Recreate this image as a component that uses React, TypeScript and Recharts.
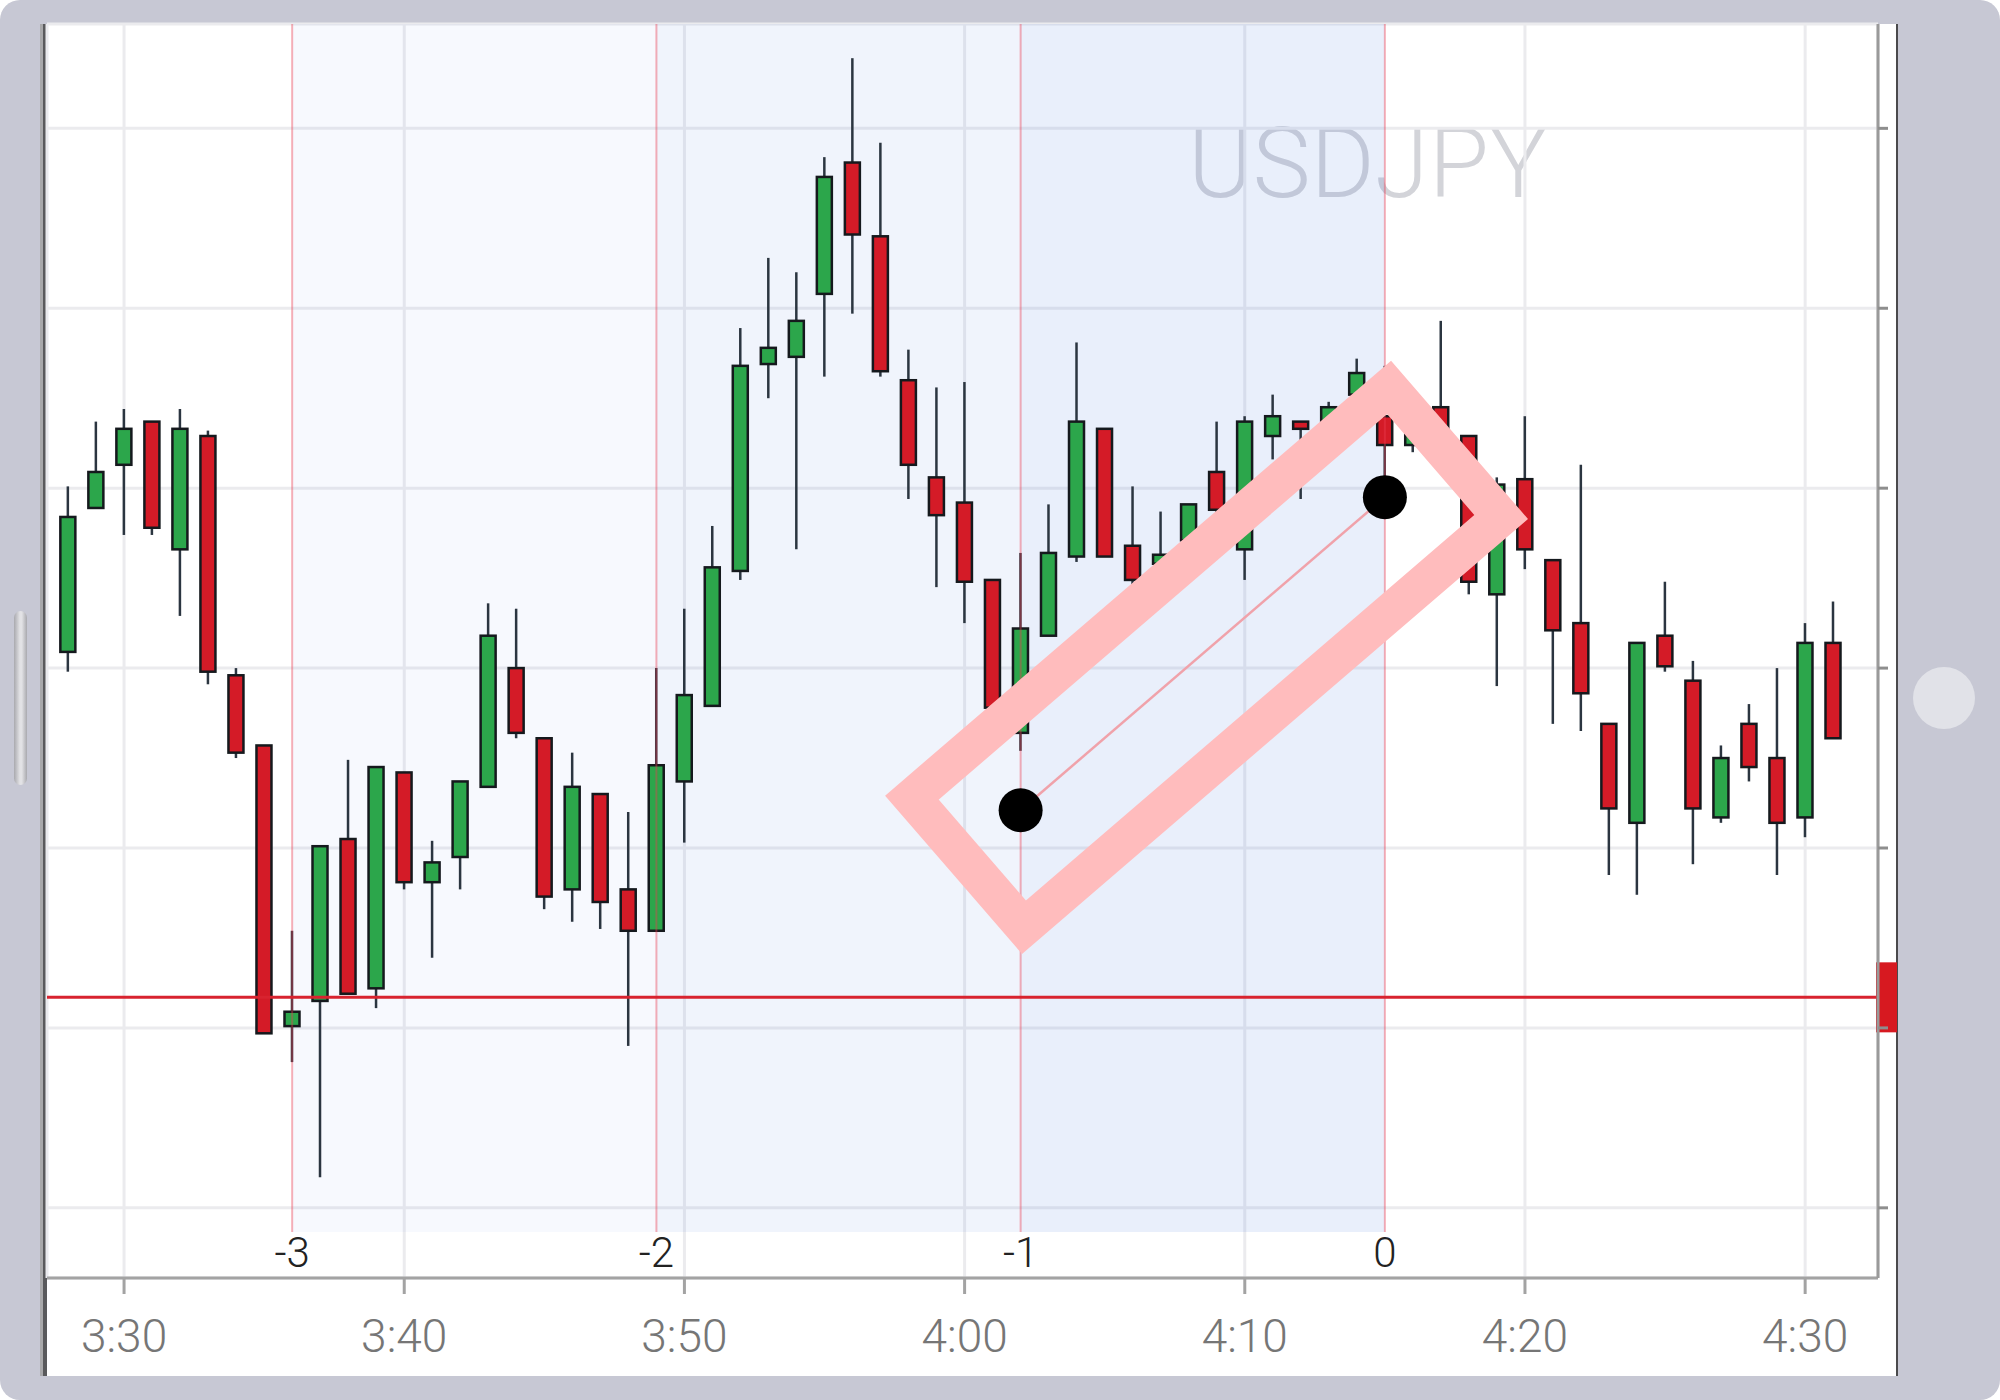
import React from 'react';
import {
  ComposedChart,
  Bar,
  Line,
  XAxis,
  YAxis,
  CartesianGrid,
  ReferenceLine,
  ReferenceArea,
  ReferenceDot,
} from 'recharts';

// one candle per minute
const times = [
  '3:28', '3:29', '3:30', '3:31', '3:32', '3:33', '3:34', '3:35', '3:36', '3:37', '3:38', '3:39',
  '3:40', '3:41', '3:42', '3:43', '3:44', '3:45', '3:46', '3:47', '3:48', '3:49', '3:50', '3:51',
  '3:52', '3:53', '3:54', '3:55', '3:56', '3:57', '3:58', '3:59', '4:00', '4:01', '4:02', '4:03',
  '4:04', '4:05', '4:06', '4:07', '4:08', '4:09', '4:10', '4:11', '4:12', '4:13', '4:14', '4:15',
  '4:16', '4:17', '4:18', '4:19', '4:20', '4:21', '4:22', '4:23', '4:24', '4:25', '4:26', '4:27',
  '4:28', '4:29', '4:30', '4:31',
];

const opens = [
  110.009, 110.089, 110.113, 110.137, 110.066, 110.129, 109.996, 109.957, 109.801, 109.815, 109.905, 109.822,
  109.942, 109.881, 109.895, 109.934, 110.0, 109.961, 109.877, 109.93, 109.877, 109.854, 109.937, 109.979,
  110.054, 110.169, 110.173, 110.208, 110.281, 110.24, 110.16, 110.106, 110.092, 110.049, 109.964, 110.018,
  110.062, 110.133, 110.068, 110.058, 110.071, 110.109, 110.066, 110.129, 110.137, 110.127, 110.152, 110.14,
  110.124, 110.145, 110.129, 110.041, 110.105, 110.06, 110.025, 109.969, 109.914, 110.018, 109.993, 109.917,
  109.969, 109.95, 109.917, 110.014,
];
const highs = [
  110.101, 110.137, 110.144, 110.137, 110.144, 110.132, 110.0, 109.957, 109.854, 109.901, 109.949, 109.945,
  109.942, 109.904, 109.937, 110.036, 110.033, 109.961, 109.953, 109.93, 109.92, 110.0, 110.033, 110.079,
  110.189, 110.228, 110.22, 110.284, 110.339, 110.292, 110.177, 110.156, 110.159, 110.049, 110.064, 110.091,
  110.181, 110.133, 110.101, 110.087, 110.091, 110.137, 110.14, 110.152, 110.137, 110.148, 110.172, 110.168,
  110.146, 110.193, 110.129, 110.106, 110.14, 110.06, 110.113, 109.969, 110.014, 110.048, 110.004, 109.957,
  109.98, 110.0, 110.025, 110.037,
];
const lows = [
  109.998, 110.089, 110.074, 110.074, 110.029, 109.991, 109.95, 109.797, 109.781, 109.717, 109.819, 109.811,
  109.877, 109.839, 109.877, 109.934, 109.961, 109.866, 109.859, 109.855, 109.79, 109.854, 109.903, 109.979,
  110.049, 110.15, 110.066, 110.162, 110.197, 110.162, 110.094, 110.045, 110.025, 109.976, 109.954, 110.018,
  110.059, 110.062, 110.046, 110.055, 110.069, 110.085, 110.049, 110.116, 110.094, 110.122, 110.149, 110.099,
  110.12, 110.116, 110.041, 109.99, 110.055, 109.969, 109.965, 109.885, 109.874, 109.998, 109.891, 109.914,
  109.937, 109.885, 109.906, 109.961,
];
const closes = [
  110.084, 110.109, 110.133, 110.078, 110.133, 109.998, 109.953, 109.797, 109.809, 109.901, 109.819, 109.945,
  109.881, 109.892, 109.937, 110.018, 109.964, 109.873, 109.934, 109.87, 109.854, 109.946, 109.985, 110.056,
  110.168, 110.178, 110.193, 110.273, 110.241, 110.165, 110.113, 110.085, 110.048, 109.978, 110.022, 110.064,
  110.137, 110.062, 110.049, 110.063, 110.091, 110.088, 110.137, 110.14, 110.133, 110.145, 110.164, 110.124,
  110.144, 110.122, 110.048, 110.102, 110.066, 110.021, 109.986, 109.922, 110.014, 110.001, 109.922, 109.95,
  109.945, 109.914, 110.014, 109.961,
];

const tickLabels = ['3:30', '3:40', '3:50', '4:00', '4:10', '4:20', '4:30'];
const priceTicks = [109.7, 109.8, 109.9, 110.0, 110.1, 110.2, 110.3];

// time cycle tool
const cycleTimes = ['3:36', '3:49', '4:02', '4:15'];
const cycleLabels = ['-3', '-2', '-1', '0'];
const cycleFills = ['rgba(60,111,221,0.04)', 'rgba(60,111,221,0.075)', 'rgba(60,111,221,0.115)'];

// drawn channel (corner points, minutes / price)
const channelMinutes = [238.12, 242.12, 259.15, 255.15];
const channelPrices = [109.928, 109.856, 110.084, 110.156];
const anchorTimes = ['4:02', '4:15'];
const anchorPrices = [109.921, 110.095];

const priceLine = 109.817;

const X_DOMAIN: [number, number] = [207.25, 272.6];
const Y_DOMAIN: [number, number] = [109.661, 110.358];
const CYCLE_FLOOR = 109.6866;
const BODY_W = 15;

const toMin = (s: string) => {
  const [h, m] = s.split(':').map(Number);
  return h * 60 + m;
};
const fmtMin = (v: number) => `${Math.floor(v / 60)}:${String(Math.round(v) % 60).padStart(2, '0')}`;

const candles = times.map((time, i) => ({
  t: toMin(time),
  open: opens[i],
  high: highs[i],
  low: lows[i],
  close: closes[i],
  range: [lows[i], highs[i]],
}));

const order = [0, 1, 2, 3, 0, 1];
const channel = order.map((k) => ({ t: channelMinutes[k], p: channelPrices[k] }));

const font = 'Roboto, "Open Sans", sans-serif';

const Candle = (props: any) => {
  const { x, y, width, height, payload } = props;
  if (!payload) return null;
  const top = Math.min(y, y + height);
  const bottom = Math.max(y, y + height);
  const { open, close, high, low } = payload;
  const px = (v: number) => top + ((high - v) / (high - low)) * (bottom - top);
  const up = close >= open;
  const bTop = px(Math.max(open, close));
  const bBot = px(Math.min(open, close));
  const cx = x + width / 2;
  return (
    <g>
      <line x1={cx} x2={cx} y1={top} y2={bottom} stroke="#2b3540" strokeWidth={2.5} />
      <rect
        x={cx - BODY_W / 2}
        y={bTop}
        width={BODY_W}
        height={Math.max(bBot - bTop, 2)}
        fill={up ? '#2ca64b' : '#d41b27'}
        stroke="#15191d"
        strokeWidth={2.5}
      />
    </g>
  );
};

const PriceTag = (props: any) => {
  const vb = props.viewBox || {};
  return <rect x={vb.x + vb.width - 2} y={vb.y - 35} width={21} height={70} fill="#d71920" />;
};

export default function App() {
  return (
    <div style={{ position: 'absolute', left: 0, top: 0, width: 2000, height: 1400, overflow: 'hidden' }}>
      {/* device frame */}
      <div style={{ position: 'absolute', inset: 0, background: '#c7c8d4', borderRadius: 20 }} />
      <div style={{ position: 'absolute', left: 47, top: 24, width: 1850, height: 1352, background: '#fff' }} />
      <div style={{ position: 'absolute', left: 40, top: 24, width: 3, height: 1352, background: '#a9a9ab' }} />
      <div style={{ position: 'absolute', left: 43, top: 24, width: 4, height: 1352, background: '#5a5a5c' }} />
      <div style={{ position: 'absolute', left: 1896, top: 24, width: 2, height: 1352, background: '#4a4a4c' }} />
      <div
        style={{
          position: 'absolute', left: 14, top: 611, width: 13, height: 174, borderRadius: 7,
          background: 'linear-gradient(to right, #a9a9ae, #e2e2e5 45%, #e2e2e5 60%, #a9a9ae)',
        }}
      />
      <div
        style={{
          position: 'absolute', left: 1913, top: 667, width: 62, height: 62, borderRadius: '50%', background: '#e1e2e8',
        }}
      />

      <svg width={2000} height={1400} style={{ position: 'absolute', left: 0, top: 0 }}>
        <text x={1188} y={197} fontSize={98} fontFamily={font} fontWeight={300} fill="#d3d4d9">
          USDJPY
        </text>
      </svg>

      <div style={{ position: 'absolute', left: 0, top: 0 }}>
        <ComposedChart
          width={2000}
          height={1400}
          data={candles}
          margin={{ top: 24, left: 47, right: 102, bottom: 42 }}
        >
          <CartesianGrid stroke="#ebebee" strokeWidth={3} />
          <XAxis
            type="number"
            dataKey="t"
            domain={X_DOMAIN}
            allowDataOverflow
            ticks={tickLabels.map(toMin)}
            tickFormatter={fmtMin}
            height={80}
            axisLine={{ stroke: '#a3a3a3', strokeWidth: 3 }}
            tickLine={{ stroke: '#a3a3a3', strokeWidth: 3 }}
            tickSize={16}
            tickMargin={25}
            tick={{ fill: '#767676', fontSize: 46, fontFamily: font, fontWeight: 300 }}
          />
          <YAxis
            type="number"
            orientation="right"
            domain={Y_DOMAIN}
            allowDataOverflow
            ticks={priceTicks}
            width={20}
            axisLine={{ stroke: '#9a9a9a', strokeWidth: 3 }}
            tickLine={{ stroke: '#8e8e8e', strokeWidth: 3 }}
            tickSize={10}
            tick={() => <g />}
          />
          {cycleFills.map((fill, i) => (
            <ReferenceArea
              key={`band-${i}`}
              x1={toMin(cycleTimes[i])}
              x2={toMin(cycleTimes[i + 1])}
              y1={CYCLE_FLOOR}
              y2={Y_DOMAIN[1]}
              fill={fill}
              fillOpacity={1}
              stroke="none"
            />
          ))}
          <Bar dataKey="range" barSize={15} shape={<Candle />} isAnimationActive={false} />
          {cycleTimes.map((time, i) => (
            <ReferenceLine
              key={`cycle-${i}`}
              segment={[
                { x: toMin(time), y: CYCLE_FLOOR },
                { x: toMin(time), y: Y_DOMAIN[1] },
              ]}
              stroke="rgba(235,60,80,0.4)"
              strokeWidth={2}
              label={{
                value: cycleLabels[i],
                position: 'bottom',
                offset: 5,
                fill: '#222',
                fontSize: 42,
                fontFamily: font,
                fontWeight: 300,
              }}
            />
          ))}
          <Line
            data={channel}
            dataKey="p"
            type="linear"
            stroke="#ffbcbd"
            strokeWidth={38}
            strokeLinejoin="miter"
            dot={false}
            activeDot={false}
            isAnimationActive={false}
          />
          <ReferenceLine
            segment={[
              { x: toMin(anchorTimes[0]), y: anchorPrices[0] },
              { x: toMin(anchorTimes[1]), y: anchorPrices[1] },
            ]}
            stroke="#f0a2aa"
            strokeWidth={2.5}
          />
          {anchorTimes.map((time, i) => (
            <ReferenceDot key={`dot-${i}`} x={toMin(time)} y={anchorPrices[i]} r={22} fill="#000" stroke="none" />
          ))}
          <ReferenceLine y={priceLine} stroke="#d8232f" strokeWidth={3} label={<PriceTag />} />
        </ComposedChart>
      </div>
    </div>
  );
}
